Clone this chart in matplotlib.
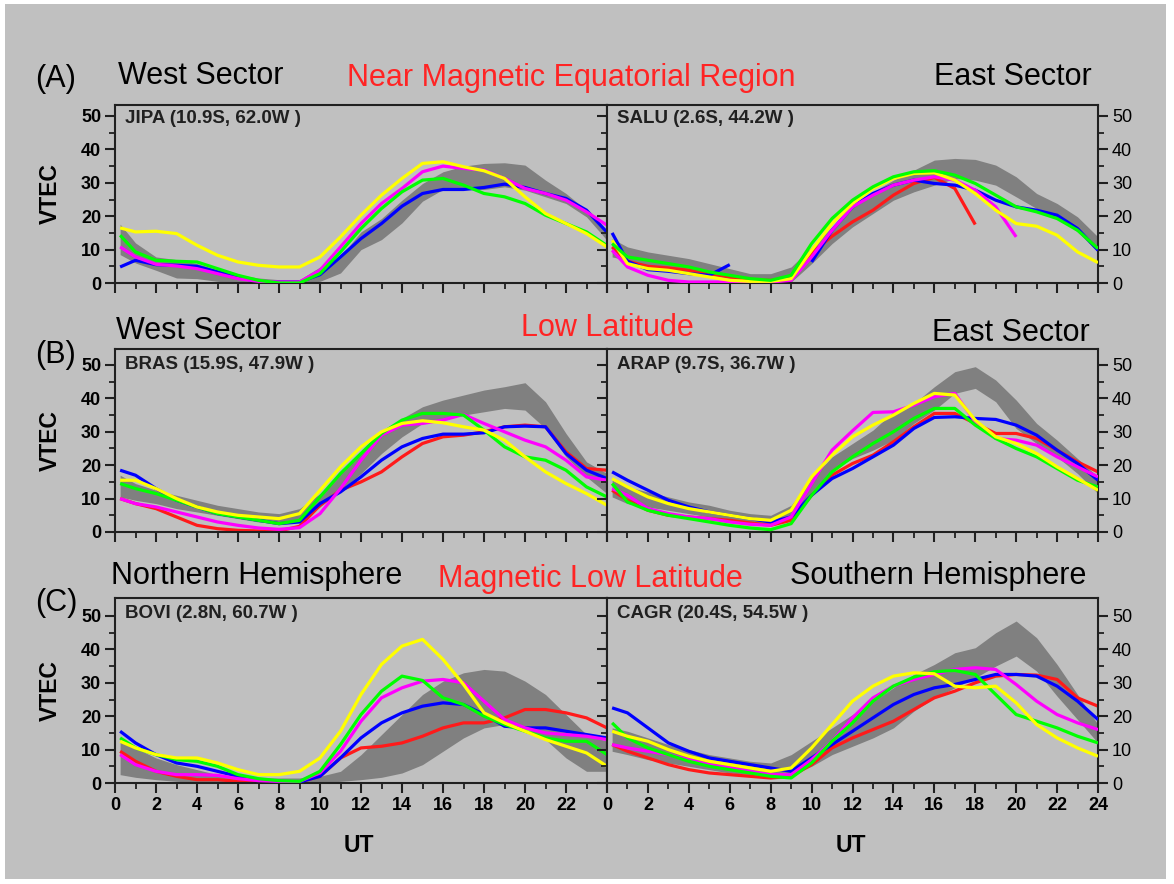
#!/usr/bin/env python3
"""Diurnal VTEC curves at six GNSS stations, with the quiet-day band in gray."""

import numpy as np
import matplotlib
matplotlib.use("Agg")
import matplotlib.pyplot as plt
from matplotlib.patches import Rectangle

plt.rcParams["font.family"] = ["Liberation Sans", "DejaVu Sans"]

W, H = 1174, 884
NAN = np.nan

HOURS = [0.25, 1, 2, 3, 4, 5, 6, 7, 8, 9, 10, 11, 12, 13, 14, 15, 16, 17, 18, 19, 20, 21, 22, 23, 24]

# ---- JIPA (row A, west) ----
JIPA_LO = [8.5, 6, 3.8, 1.5, 1.3, 0.5, 0, 0, 0, 0, 0.5, 3, 10, 13, 18, 24.5, 28, 28, 28, 28.8, 27.8, 25.8, 23.8, 19.8, 12.8]
JIPA_HI = [17.6, 12, 7.8, 7, 5.8, 4, 2.5, 1.5, 1, 1, 4.8, 8, 15.3, 19.3, 24.8, 29.8, 33.3, 35, 35.8, 36, 35.3, 30.8, 26.8, 21.8, 14.8]
JIPA_BLUE = [4.8, 6.8, 5.5, 5.3, 5, 3.3, 1.8, 0.3, 0.3, 0.3, 2.5, 7.8, 13.3, 17.8, 23, 26.8, 28, 28, 28.6, 29.6, 28.6, 26.8, 25.3, 21.8, 15.2]
JIPA_MAGENTA = [10.8, 7.8, 5.6, 5.1, 4.3, 2.8, 1.3, 0.5, 0.3, 0.3, 3.8, 10.8, 17.8, 23.8, 28.3, 33.3, 35, 34.3, 33.8, 31.3, 28.3, 26.8, 24.8, 21.3, 17.3]
JIPA_GREEN = [14.3, 9.3, 6.8, 6.5, 6.3, 4.3, 2.3, 0.8, 0, 0, 2.8, 9.3, 16.3, 22.3, 27.3, 30.8, 31.3, 29.3, 26.8, 25.8, 23.8, 20.3, 17.8, 15.3, 11.2]
JIPA_YELLOW = [16.5, 15.3, 15.5, 14.8, 11.3, 8.3, 6.3, 5.3, 4.8, 4.8, 7.8, 13.8, 20.3, 26.3, 31.3, 35.8, 36.3, 34.8, 33.6, 31.3, 25.8, 20.8, 17.8, 14.8, 10.8]

# ---- SALU (row A, east) ----
SALU_LO = [7.8, 6.8, 5.3, 4.3, 3.3, 2.3, 1.3, 0.8, 0.3, 0.3, 5.8, 11.8, 16.8, 20.8, 24.8, 27.3, 29.3, 31.3, 30.8, 29.3, 25.8, 22.3, 19.3, 15.3, 9.3]
SALU_HI = [13.3, 10.8, 9.3, 8.3, 7.3, 5.8, 4.3, 2.8, 2.8, 4.8, 10.8, 16.8, 22.8, 27.3, 30.8, 33.8, 36.8, 37.3, 37, 35.3, 31.8, 26.8, 23.8, 19.8, 13.8]
SALU_RED = [10.8, 6.5, 5, 4.5, 3.8, 2.8, 1.8, 1, 0.8, 1.5, 9, 14, 18.3, 21.8, 26.3, 29.8, 31.6, 28.3, 17.5, NAN, NAN, NAN, NAN, NAN, NAN]
SALU_BLUE = [15, 6.5, 4, 3.5, 2.8, 2.3, 5.5, NAN, NAN, NAN, 6.3, 15.8, 22.8, 26.8, 29.3, 30.8, 29.8, 29.3, 27.8, 24.8, 22.8, 21.8, 20.3, 16.3, 9.8]
SALU_MAGENTA = [9.8, 4.8, 2.3, 0.8, 0.3, 0.3, 0.3, 0.3, 0.3, 0.8, 7.8, 15.8, 22.8, 26.3, 29.3, 30.8, 31.8, 30.8, 27.8, 22.8, 13.8, NAN, NAN, NAN, NAN]
SALU_GREEN = [11.8, 7.8, 6.8, 5.8, 4.8, 3.3, 2.3, 1.3, 0.8, 2.3, 11.8, 19.3, 24.8, 28.8, 31.8, 33.3, 33.6, 32.3, 29.8, 26.3, 22.8, 21.3, 19.3, 15.8, 10.3]
SALU_YELLOW = [12.8, 5.8, 4.3, 3.8, 2.8, 1.8, 0.8, 0.5, 0.5, 1.3, 9.8, 17.8, 23.8, 28.3, 31.3, 32.8, 33, 30.8, 26.8, 21.8, 17.8, 17, 14.3, 9.3, 6.1]

# ---- BRAS (row B, west) ----
BRAS_LO = [10.5, 9.5, 8.5, 7, 6, 5, 4, 3, 2.5, 3.5, 7.5, 12.5, 17.5, 23.5, 28.5, 32.5, 34, 35, 36, 37, 36.5, 31, 22.5, 16.5, 11.5]
BRAS_HI = [17, 14.5, 12.5, 11, 9.5, 8, 7, 6, 5.5, 7, 11.5, 17.5, 23.5, 29.5, 34, 37.5, 39.5, 41, 42.5, 43.5, 44.7, 39, 29.5, 21, 17.5]
BRAS_RED = [10, 8.5, 7, 4.5, 2, 1, 0.5, 0.3, 0.3, 1.7, 8, 12.5, 15, 18, 22.5, 26.5, 28.5, 29, 30, 31.5, 32, 31.5, 24, 19, 18.5]
BRAS_BLUE = [18.5, 17, 13, 9.5, 7.5, 5.5, 4.5, 3.5, 2.5, 3, 8.5, 12, 16.5, 21.5, 25.5, 28, 29.3, 29.3, 29.7, 31.5, 31.7, 31.5, 23.5, 18.5, 16]
BRAS_MAGENTA = [10, 8.5, 7.5, 6, 4.5, 3, 2, 1.2, 0.8, 1.3, 5.5, 13, 21.5, 29, 32, 32.5, 33.5, 35.2, 32.5, 30, 27.5, 25.5, 21.5, 16.5, 15.5]
BRAS_GREEN = [14.5, 13, 11.5, 9.5, 7.5, 5.5, 4.5, 3.5, 2.5, 3.5, 10.5, 17.5, 23.5, 29.5, 33.5, 35.5, 35.5, 35, 30.5, 25.5, 22.5, 21.5, 18.5, 13.5, 10.5]
BRAS_YELLOW = [15.5, 15.5, 13, 10, 7.5, 6, 5, 4.5, 4, 5.5, 12.5, 19.5, 25.5, 30, 32.5, 33.3, 32.7, 31.5, 30.5, 27.5, 22.5, 18, 14.5, 11.5, 8]

# ---- ARAP (row B, east) ----
ARAP_LO = [10.5, 8.5, 7.5, 6.5, 5.5, 4.5, 3.5, 2.5, 2, 4, 12, 18.5, 22, 24.5, 27.5, 32.5, 36.5, 41.5, 43, 39, 31, 26.5, 22.5, 17.5, 11.5]
ARAP_HI = [15.5, 13.5, 12, 10.5, 9, 8, 6.5, 5.5, 5, 8, 16, 22.5, 26.5, 30.5, 36, 38.5, 43.5, 48, 49.5, 45.5, 39.5, 32.5, 27.5, 22, 16.5]
ARAP_RED = [12.5, 9.5, 6.5, 5, 4.5, 4, 3.5, 2.7, 2, 3.5, 11, 17, 20.5, 23, 27, 31.5, 35.5, 35.5, 32.5, 29.5, 29.5, 28, 24.5, 21, 18]
ARAP_BLUE = [18, 15.5, 12.5, 9.5, 7.5, 6, 5, 4, 3, 4.5, 11, 16, 19, 22.5, 26, 31, 34.3, 34.5, 34, 33.7, 32, 29, 24.5, 20.5, 15.5]
ARAP_MAGENTA = [13, 11, 7, 5.5, 4.5, 4, 3, 2.3, 2, 4.5, 14.5, 24.5, 30.3, 35.8, 36, 38, 40.5, 41.5, 33, 28, 27.5, 26, 22.5, 19.5, 16.5]
ARAP_GREEN = [14.5, 9, 6.5, 5, 4, 3, 2, 1.2, 0.7, 2.5, 11, 18, 22.5, 26.5, 30, 34, 37, 37, 32, 28, 25, 22.5, 19, 15.5, 13.5]
ARAP_YELLOW = [16, 13.5, 10.5, 8.5, 7, 6, 5, 4, 3.5, 6.5, 16.5, 23, 28.5, 32, 35, 38.5, 41.5, 41, 33.5, 28.5, 26.5, 23.5, 19.5, 16, 12.5]

# ---- BOVI (row C, north) ----
BOVI_LO = [2.5, 1.7, 1, 0.5, 0.2, 0, 0, 0, 0, 0, 0, 0.5, 1, 1.7, 3, 5.5, 9.5, 13.5, 16.5, 17.5, 16.5, 13, 7.5, 3.5, 3.5]
BOVI_HI = [13.5, 10.5, 7.5, 5.5, 4, 2.5, 2, 1.5, 1.5, 1.5, 2, 3.5, 8.5, 14.5, 20.5, 26.5, 30.5, 33, 34, 33.5, 30.5, 26.5, 20.5, 14.5, 12.5]
BOVI_RED = [9.5, 6.5, 3.5, 2, 1, 1, 0.5, 0.3, 0.3, 0.3, 2, 7.5, 10.5, 11, 12, 14, 16.5, 18, 18, 19.5, 22, 22, 21, 19.5, 16.5]
BOVI_BLUE = [15.5, 12, 8.5, 6, 5, 3.5, 2, 1, 0.5, 0.3, 2, 7.5, 13.5, 18, 21, 23, 24, 23.5, 20.5, 17, 16.5, 16.5, 15.5, 14.5, 13.5]
BOVI_MAGENTA = [8.5, 5.5, 3.5, 2.5, 2.5, 2.3, 1.3, 0.7, 0.5, 0.5, 3, 9.5, 18.5, 25.5, 28.5, 30.5, 31, 30, 24.5, 19, 16.5, 15, 14.5, 14, 13]
BOVI_GREEN = [13.5, 10.5, 8.5, 7, 6.5, 5, 2.5, 1.3, 0.7, 0.5, 3.5, 11.5, 20.5, 27.5, 32, 30.7, 25.5, 23.5, 20, 17.5, 15.5, 13.5, 12.5, 12.5, 8.5]
BOVI_YELLOW = [12.5, 10.5, 8.5, 7.5, 7.5, 6, 4, 2.5, 2.5, 3.5, 7.5, 15.5, 26.5, 35.5, 41, 43, 37, 29.5, 21, 18, 15.5, 13, 11, 9, 5]

# ---- CAGR (row C, south) ----
CAGR_LO = [9.5, 8.5, 7, 6, 5, 4, 3, 2.5, 2, 2.5, 5, 8.5, 11, 13.5, 16.5, 21.5, 25.5, 28.5, 31.5, 35, 38, 33.5, 26, 19, 12]
CAGR_HI = [16.5, 15.5, 13.5, 11.5, 10, 8.5, 7.5, 6.5, 6, 8.5, 12.5, 16.5, 20.5, 24.5, 28.5, 32.5, 35.5, 39, 40.5, 45, 48.5, 43.5, 35.5, 26.5, 17.5]
CAGR_RED = [11.5, 9.5, 7.5, 5.5, 4, 3, 2.5, 2, 1.5, 2, 5.5, 10.5, 13.5, 16, 18.5, 22, 25.5, 27.5, 30, 32, 32.5, 32.3, 31, 25.5, 23]
CAGR_BLUE = [22.5, 21, 16.5, 12, 9.5, 7.5, 6.5, 5.5, 4.5, 3.5, 7.5, 11.5, 15.5, 19.5, 23.5, 26.5, 28.5, 29.5, 31, 32.5, 32.5, 32, 29, 24.5, 19]
CAGR_MAGENTA = [11.5, 10.5, 9.5, 8.5, 7, 5.5, 4.5, 3.5, 2.5, 2.5, 7, 12.5, 19.5, 25.5, 29, 31, 32.5, 34, 34.5, 34, 29.5, 24.5, 20.5, 18, 16]
CAGR_GREEN = [18, 13.5, 10.5, 8.5, 6.5, 5, 4, 3, 2, 1.5, 6, 12.5, 18, 24.5, 29, 31.7, 33.3, 33.7, 32.5, 26.5, 20.5, 18.5, 16.5, 14, 12]
CAGR_YELLOW = [15.5, 14, 12.5, 10, 8, 6.5, 5.5, 4.5, 3.5, 4.5, 10.5, 17.5, 24.5, 29, 32, 33, 32.7, 29, 28.5, 29, 24, 17.5, 13.5, 10.5, 8]

COLORS = {"red": "#ff1a1a", "blue": "#0000ff", "magenta": "#ff00ff", "green": "#00ff00", "yellow": "#ffff00"}

PANELS = [
    # (row, col, station label, band lo, band hi, {colour: series})
    (0, 0, "JIPA (10.9S, 62.0W )", JIPA_LO, JIPA_HI,
     {"blue": JIPA_BLUE, "magenta": JIPA_MAGENTA, "green": JIPA_GREEN, "yellow": JIPA_YELLOW}),
    (0, 1, "SALU (2.6S, 44.2W )", SALU_LO, SALU_HI,
     {"red": SALU_RED, "blue": SALU_BLUE, "magenta": SALU_MAGENTA, "yellow": SALU_YELLOW, "green": SALU_GREEN}),
    (1, 0, "BRAS (15.9S, 47.9W )", BRAS_LO, BRAS_HI,
     {"red": BRAS_RED, "blue": BRAS_BLUE, "magenta": BRAS_MAGENTA, "green": BRAS_GREEN, "yellow": BRAS_YELLOW}),
    (1, 1, "ARAP (9.7S, 36.7W )", ARAP_LO, ARAP_HI,
     {"red": ARAP_RED, "blue": ARAP_BLUE, "magenta": ARAP_MAGENTA, "green": ARAP_GREEN, "yellow": ARAP_YELLOW}),
    (2, 0, "BOVI (2.8N, 60.7W )", BOVI_LO, BOVI_HI,
     {"red": BOVI_RED, "blue": BOVI_BLUE, "magenta": BOVI_MAGENTA, "green": BOVI_GREEN, "yellow": BOVI_YELLOW}),
    (2, 1, "CAGR (20.4S, 54.5W )", CAGR_LO, CAGR_HI,
     {"red": CAGR_RED, "blue": CAGR_BLUE, "magenta": CAGR_MAGENTA, "green": CAGR_GREEN, "yellow": CAGR_YELLOW}),
]

# pixel geometry of the axes (top, bottom) per row, (left, right) per column
ROW_PX = [(105, 283), (349, 532), (598, 783)]
COL_PX = [(115, 607), (607, 1098)]
PX_PER_TEC = 3.34

BG = "#c0c0c0"
BAND = "#808080"


def fx(px):
    return px / W


def fy(py):
    return 1 - py / H


def main():
    fig = plt.figure(figsize=(W / 100, H / 100), dpi=100, facecolor="white")
    fig.patches.append(Rectangle((fx(5), fy(879)), fx(1161), 875 / H, transform=fig.transFigure,
                                 facecolor=BG, edgecolor="none", zorder=-10))

    for row, col, label, lo, hi, series in PANELS:
        top, bot = ROW_PX[row]
        left, right = COL_PX[col]
        ax = fig.add_axes([fx(left), fy(bot), (right - left) / W, (bot - top) / H])
        ax.set_facecolor(BG)

        ax.fill_between(HOURS, lo, hi, color=BAND, lw=0, zorder=1)
        for i, (cname, vals) in enumerate(series.items()):
            ax.plot(HOURS, vals, color=COLORS[cname], lw=2.3, zorder=2 + i,
                    solid_joinstyle="round", solid_capstyle="butt")

        ax.set_xlim(0, 24)
        ax.set_ylim(0, (bot - top) / PX_PER_TEC)
        ax.set_xticks(range(0, 25, 2))
        ax.set_xticks(range(0, 25), minor=True)
        ax.set_yticks(range(0, 51, 10))
        ax.set_yticks(range(0, 51, 5), minor=True)

        for sp in ax.spines.values():
            sp.set_linewidth(1.5)
            sp.set_color("#202020")

        ax.tick_params(which="major", direction="out", length=7, width=1.5, color="#202020",
                       labelsize=13, pad=3)
        ax.tick_params(which="minor", direction="out", length=4, width=1.3, color="#202020")
        for t in ax.get_xticklabels() + ax.get_yticklabels():
            t.set_fontweight("bold")

        if col == 1:
            ax.yaxis.set_ticks_position("both")
            ax.tick_params(axis="y", which="both", labelleft=False, labelright=True)

        if row < 2:
            ax.tick_params(axis="x", which="both", labelbottom=False)
        elif col == 0:
            ax.set_xticklabels([str(h) if h < 24 else "" for h in range(0, 25, 2)])

        ax.text(0.02, 0.925 if row == 0 else 0.915, label, transform=ax.transAxes,
                fontsize=13.5, fontweight="bold", color="#202020", va="center", ha="left")

        if col == 0:
            fig.text(fx(50), fy((top + bot) / 2), "VTEC", rotation=90, fontsize=16.5,
                     fontweight="bold", ha="center", va="center")
        if row == 2:
            fig.text(fx((left + right) / 2 - 2), fy(845), "UT", fontsize=16.5,
                     fontweight="bold", ha="center", va="center")

    big = 22
    red = "#ff2424"
    # row A headings
    fig.text(fx(35), fy(79), "(A)", fontsize=big, va="center", ha="left")
    fig.text(fx(118), fy(76), "West Sector", fontsize=big, va="center", ha="left")
    fig.text(fx(571), fy(78), "Near Magnetic Equatorial Region", fontsize=big, color=red,
             va="center", ha="center")
    fig.text(fx(1092), fy(77), "East Sector", fontsize=big, va="center", ha="right")
    # row B headings
    fig.text(fx(35), fy(355), "(B)", fontsize=big, va="center", ha="left")
    fig.text(fx(116), fy(331), "West Sector", fontsize=big, va="center", ha="left")
    fig.text(fx(607), fy(328), "Low Latitude", fontsize=big, color=red, va="center", ha="center")
    fig.text(fx(1090), fy(333), "East Sector", fontsize=big, va="center", ha="right")
    # row C headings
    fig.text(fx(35), fy(603), "(C)", fontsize=big, va="center", ha="left")
    fig.text(fx(111), fy(576), "Northern Hemisphere", fontsize=big, va="center", ha="left")
    fig.text(fx(590), fy(579), "Magnetic Low Latitude", fontsize=big, color=red,
             va="center", ha="center")
    fig.text(fx(1086), fy(576), "Southern Hemisphere", fontsize=big, va="center", ha="right")

    fig.savefig("out.png", dpi=100, facecolor=fig.get_facecolor())


if __name__ == "__main__":
    main()
